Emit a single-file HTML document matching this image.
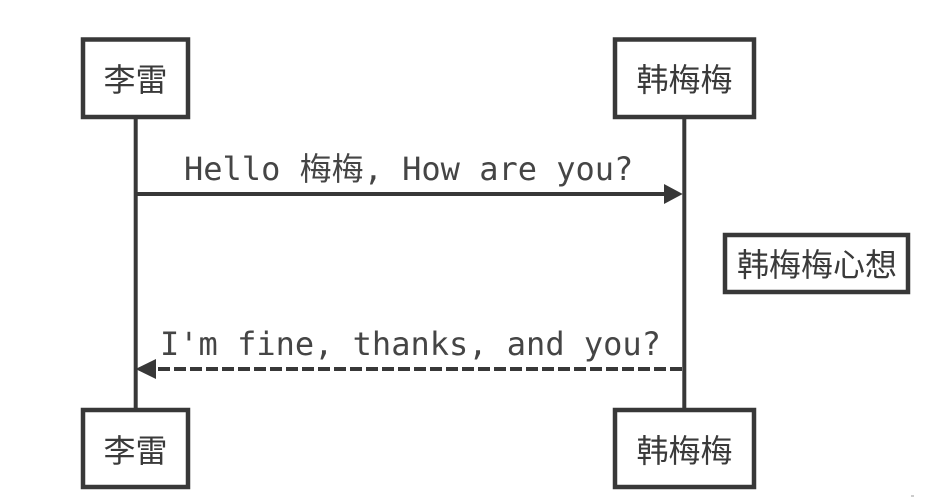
<!DOCTYPE html>
<html>
<head>
<meta charset="utf-8">
<style>
html,body{margin:0;padding:0;background:#fff;width:952px;height:498px;overflow:hidden}
svg{display:block;filter:blur(0.35px)}
.cjk{font-family:"Liberation Sans","Noto Sans CJK SC",sans-serif;font-size:32px;fill:#3a3a3a;text-anchor:middle}
.mono{font-family:"DejaVu Sans Mono","Noto Sans CJK SC",monospace;font-size:32px;fill:#454545}
</style>
</head>
<body>
<svg width="952" height="498" viewBox="0 0 952 498" xmlns="http://www.w3.org/2000/svg">
<g fill="none" stroke="#383838" stroke-width="4">
<path d="M135.7 119V408M684.3 119V408"/>
<path d="M137 194H666"/>
<path d="M682 369H154" stroke-dasharray="12 4"/>
<g stroke-width="4.5">
<rect x="83" y="39.5" width="105" height="77.5" fill="#fff"/>
<rect x="615" y="39.5" width="139" height="77.5" fill="#fff"/>
<rect x="83" y="410" width="105" height="77" fill="#fff"/>
<rect x="615" y="410" width="139" height="77" fill="#fff"/>
<rect x="725" y="235" width="183" height="57" fill="#fff"/>
</g>
</g>
<polygon points="682.7,194 664,184 664,204" fill="#383838"/>
<polygon points="135.5,369 156,359 156,379" fill="#383838"/>
<text class="cjk" x="135.5" y="91">李雷</text>
<text class="cjk" x="684.5" y="91">韩梅梅</text>
<text class="cjk" x="135.5" y="462">李雷</text>
<text class="cjk" x="684.5" y="462">韩梅梅</text>
<text class="cjk" x="817" y="276">韩梅梅心想</text>
<text class="mono" x="184" y="180">Hello 梅梅, How are you?</text>
<text class="mono" x="160" y="355">I'm fine, thanks, and you?</text>
<rect x="911" y="495" width="3" height="2" fill="#ccc"/>
</svg>
</body>
</html>
